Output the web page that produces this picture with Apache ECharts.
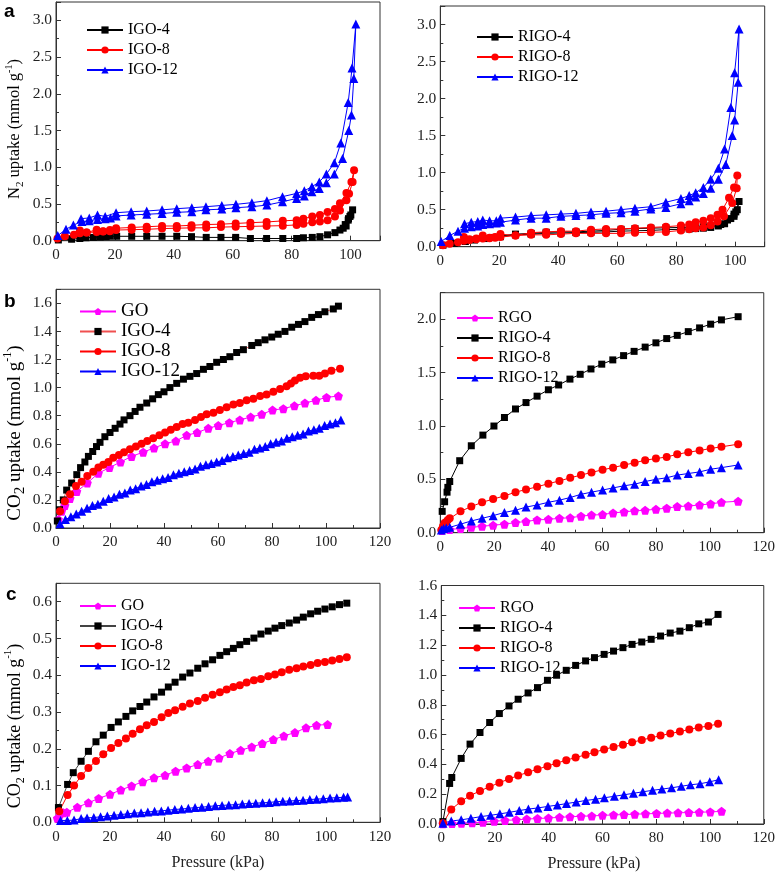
<!DOCTYPE html>
<html><head><meta charset="utf-8">
<script src="https://cdn.jsdelivr.net/npm/echarts@6/dist/echarts.min.js"></script>
<style>html,body{margin:0;padding:0;background:#fff}#c{width:778px;height:874px}</style>
</head><body><div id="c"></div>
<script>
// ---------- Panel a (N2 isotherms, adsorption then desorption) ----------
const aIGO4 = [[0.8,0.01],[5.3,0.02],[8.1,0.03],[10.2,0.04],[12.7,0.045],[15,0.05],[17,0.055],[18.3,0.06],[20.6,0.06],[25.7,0.06],[30.8,0.06],[36,0.06],[41,0.06],[46,0.055],[51,0.045],[56,0.045],[61,0.045],[66,0.03],[71.5,0.03],[77,0.03],[81.7,0.03],[84,0.04],[87,0.045],[89.6,0.055],[92.2,0.08],[94.7,0.11],[96.4,0.145],[98.2,0.22],[99.2,0.28],[99.8,0.33],[100.7,0.42],[100.1,0.35],[99.3,0.3],[98.5,0.2],[97.5,0.17]];
const aIGO8 = [[0.5,0.03],[3,0.06],[6.1,0.08],[8.1,0.1],[10.4,0.11],[13.8,0.12],[16,0.125],[18.3,0.13],[20.4,0.145],[25.7,0.15],[30.8,0.155],[36,0.165],[41,0.17],[46,0.175],[51,0.175],[56,0.185],[61,0.19],[66,0.195],[71.5,0.2],[77,0.205],[81.7,0.215],[84,0.23],[87,0.25],[89.6,0.26],[92.2,0.28],[94.7,0.33],[96.4,0.41],[98.6,0.55],[99.5,0.64],[100.7,0.80],[101.2,0.96],[100.3,0.8],[98.6,0.65],[96.4,0.51],[94.7,0.43],[92.2,0.39],[89.6,0.35],[87,0.33],[84,0.3],[81.7,0.28],[77,0.27],[71.5,0.255],[66,0.245],[61,0.235],[56,0.225],[51,0.22],[46,0.21],[41,0.2],[36,0.2],[30.8,0.19],[25.7,0.18],[20.4,0.17],[18.3,0.145],[16,0.13],[13.8,0.15],[10.4,0.11],[8.1,0.14]];
const aIGO12 = [[0.6,0.07],[3.4,0.155],[5.9,0.213],[8.8,0.26],[11.3,0.27],[14.1,0.29],[16.7,0.30],[18.5,0.31],[20.4,0.337],[25.5,0.35],[30.8,0.36],[36,0.37],[41,0.386],[46.1,0.395],[50.9,0.42],[56.3,0.43],[61.1,0.449],[66.5,0.463],[71.6,0.485],[76.9,0.53],[81.7,0.576],[84.3,0.608],[86.9,0.667],[89.4,0.71],[91.8,0.79],[94.5,0.907],[97.3,1.12],[99.4,1.5],[100.3,1.71],[101.1,2.21],[101.8,2.95],[100.5,2.35],[99.2,1.88],[96.7,1.33],[94.5,1.06],[91.8,0.907],[89.4,0.8],[86.9,0.735],[84.3,0.68],[81.7,0.644],[76.9,0.6],[71.6,0.545],[66.5,0.518],[61.1,0.495],[56.3,0.48],[50.9,0.463],[46.1,0.449],[41,0.436],[36,0.42],[30.8,0.404],[25.5,0.395],[20.4,0.381],[16.7,0.33],[14.1,0.35],[11.3,0.31],[8.5,0.30]];
const aRIGO4 = [[0.9,0.02],[4.9,0.045],[8.5,0.07],[11.6,0.09],[15,0.11],[18.4,0.125],[20.4,0.135],[25.5,0.16],[30.8,0.17],[35.9,0.18],[40.9,0.185],[46,0.19],[51.1,0.195],[56.2,0.2],[61.3,0.21],[66,0.215],[71.4,0.22],[76.5,0.23],[81.6,0.235],[84.4,0.24],[86.6,0.245],[89.2,0.25],[91.7,0.26],[94.3,0.28],[96.4,0.31],[98.5,0.38],[99.6,0.41],[100.2,0.47],[101.3,0.61],[100.7,0.5],[99.6,0.44],[97.4,0.36],[95.1,0.3],[91.7,0.28],[89.2,0.27],[86.6,0.265],[81.6,0.26],[76.5,0.255],[71.4,0.25],[66,0.245],[61.3,0.235],[56.2,0.22],[51.1,0.21],[46,0.2],[40.9,0.2],[35.9,0.195],[30.8,0.18],[25.5,0.17],[20.4,0.145]];
const aRIGO8 = [[0.9,0.02],[3.2,0.04],[6,0.06],[8,0.08],[9.9,0.09],[12.2,0.1],[14.4,0.11],[16.7,0.115],[18.6,0.12],[20.4,0.13],[25.5,0.15],[30.8,0.16],[35.9,0.16],[40.9,0.17],[46,0.18],[51.1,0.18],[56.2,0.18],[61.3,0.18],[66,0.19],[71.4,0.195],[76.5,0.2],[81.6,0.22],[84.4,0.235],[86.6,0.25],[89.2,0.26],[91.7,0.29],[94,0.34],[96.2,0.41],[99,0.59],[100.5,0.79],[100.7,0.96],[99.6,0.8],[97.9,0.66],[95.7,0.5],[94,0.43],[91.7,0.385],[89.2,0.35],[86.6,0.33],[84.4,0.3],[81.6,0.285],[76.5,0.27],[71.4,0.26],[66,0.25],[61.3,0.24],[56.2,0.24],[51.1,0.23],[46,0.21],[40.9,0.21],[35.9,0.2],[30.8,0.19],[25.5,0.15],[20.4,0.17],[18.6,0.13],[16.7,0.12],[14.4,0.15],[12.2,0.11],[9.9,0.1],[8,0.13]];
const aRIGO12 = [[0.3,0.07],[3.2,0.15],[6,0.21],[8.2,0.25],[10.5,0.27],[12.7,0.28],[14.4,0.3],[16.7,0.31],[19,0.32],[20.4,0.33],[25.5,0.36],[30.8,0.385],[35.9,0.385],[40.9,0.41],[46,0.42],[51.1,0.43],[56.2,0.45],[61.3,0.46],[66,0.48],[71.4,0.51],[76.5,0.53],[81.6,0.58],[84.4,0.62],[86.6,0.67],[89.2,0.72],[91.7,0.79],[94.3,0.91],[96.8,1.11],[99,1.5],[99.8,1.71],[101,2.22],[101.3,2.94],[99.8,2.35],[98.5,1.88],[96.4,1.32],[94.3,1.06],[91.7,0.91],[89.2,0.8],[86.6,0.73],[84.4,0.69],[81.6,0.65],[76.5,0.6],[71.4,0.54],[66,0.52],[61.3,0.5],[56.2,0.48],[51.1,0.47],[46,0.45],[40.9,0.44],[35.9,0.43],[30.8,0.42],[25.5,0.4],[20.4,0.385],[19,0.35],[16.7,0.35],[14.4,0.36],[12.7,0.34],[10.5,0.33],[8.2,0.31]];

// ---------- Panel b (CO2 uptake, left: IGO, right: RIGO) ----------
const bGO = [[0.9,0.06],[2.1,0.12],[3.3,0.16],[5.2,0.21],[7.7,0.26],[11.6,0.32],[15.7,0.39],[19.8,0.43],[23.9,0.47],[28,0.51],[32.3,0.54],[36.3,0.57],[40.4,0.6],[44.4,0.62],[48.4,0.66],[52.3,0.68],[56.4,0.71],[60.1,0.73],[64.2,0.75],[68.1,0.77],[72.1,0.79],[76.2,0.81],[80.2,0.84],[84.2,0.85],[88.3,0.87],[92.2,0.89],[96.3,0.91],[100.2,0.93],[104.6,0.94]];
const bIGO4 = [[0.5,0.05],[1.3,0.13],[2.7,0.2],[3.95,0.27],[5.8,0.32],[7.7,0.38],[9.1,0.43],[10.7,0.47],[12,0.51],[13.6,0.545],[15,0.58],[16.3,0.61],[18.1,0.65],[20,0.68],[21.9,0.71],[23.7,0.74],[25.2,0.77],[27.4,0.8],[29.3,0.83],[31.1,0.86],[33.6,0.89],[35.8,0.92],[37.9,0.95],[40,0.97],[42.2,1.0],[44.7,1.03],[47.2,1.06],[49.6,1.08],[52.1,1.1],[54.6,1.13],[57,1.15],[59.5,1.18],[62,1.2],[64.4,1.22],[66.9,1.25],[69.4,1.27],[72.5,1.3],[74.9,1.32],[77.4,1.34],[79.9,1.36],[82.3,1.38],[84.8,1.4],[87.3,1.43],[89.8,1.45],[92.2,1.47],[94.7,1.5],[97.2,1.52],[99.6,1.54],[102.7,1.56],[104.6,1.58]];
const bIGO8 = [[1.5,0.12],[3.3,0.19],[5.2,0.24],[7.4,0.3],[9.5,0.33],[11.6,0.37],[13.8,0.4],[15.7,0.43],[17.5,0.45],[19.4,0.47],[21.2,0.5],[23.3,0.52],[25.2,0.54],[27.4,0.56],[29.6,0.58],[31.7,0.6],[33.8,0.62],[36,0.64],[38.3,0.66],[40.4,0.68],[42.5,0.7],[44.7,0.72],[46.9,0.74],[49,0.75],[51.5,0.77],[53.7,0.79],[55.8,0.81],[58.3,0.82],[60.7,0.84],[63.2,0.86],[65.7,0.88],[68.1,0.89],[70.6,0.91],[73.1,0.92],[75.6,0.94],[78,0.95],[80.5,0.97],[83,0.99],[85.4,1.01],[87,1.03],[88.5,1.05],[90.4,1.07],[92.5,1.08],[95.3,1.085],[97.5,1.085],[99.6,1.1],[102,1.12],[105.2,1.135]];
const bIGO12 = [[1.5,0.03],[3.5,0.06],[5.5,0.08],[7.5,0.10],[9.5,0.12],[11.5,0.14],[13.5,0.16],[15.5,0.17],[17.5,0.19],[19.5,0.21],[21.5,0.22],[23.5,0.24],[25.5,0.25],[27.5,0.27],[29.5,0.28],[31.5,0.30],[33.5,0.31],[35.5,0.33],[37.5,0.34],[39.5,0.35],[41.5,0.36],[43.5,0.38],[45.5,0.39],[47.5,0.40],[49.5,0.41],[51.5,0.42],[53.5,0.44],[55.5,0.45],[57.5,0.46],[59.5,0.47],[61.5,0.48],[63.5,0.50],[65.5,0.51],[67.5,0.52],[69.5,0.53],[71.5,0.54],[73.5,0.56],[75.5,0.57],[77.5,0.58],[79.5,0.60],[81.5,0.61],[83.5,0.62],[85.5,0.64],[87.5,0.65],[89.5,0.66],[91.5,0.67],[93.5,0.69],[95.5,0.70],[97.5,0.71],[99.5,0.73],[101.5,0.74],[103.5,0.75],[105.5,0.77]];
const bRGO = [[0.6,0.02],[3.5,0.03],[7.5,0.04],[11.5,0.05],[15.5,0.06],[19.6,0.07],[23.8,0.08],[27.9,0.095],[31.8,0.105],[35.9,0.12],[40.1,0.125],[44.2,0.135],[48.2,0.14],[52.2,0.155],[56.1,0.165],[60.2,0.17],[64.1,0.185],[68.2,0.195],[72.1,0.205],[76,0.21],[80,0.22],[84,0.23],[87.9,0.245],[92,0.25],[96.2,0.26],[100.3,0.27],[104.3,0.285],[110.5,0.295]];
const bRIGO4 = [[0.7,0.2],[1.6,0.29],[2.5,0.38],[2.8,0.425],[3.5,0.48],[7.2,0.675],[11.5,0.815],[15.8,0.915],[19.9,1.0],[23.8,1.08],[27.9,1.16],[31.8,1.22],[35.9,1.28],[40.1,1.34],[43.9,1.385],[48.1,1.44],[51.9,1.485],[55.9,1.535],[59.9,1.58],[64,1.62],[68,1.66],[71.9,1.7],[76,1.74],[80,1.78],[84,1.82],[87.9,1.85],[92,1.885],[96.2,1.92],[100.3,1.955],[104.3,1.995],[110.5,2.025]];
const bRIGO8 = [[0.4,0.025],[1,0.06],[1.6,0.09],[2.2,0.1],[2.8,0.12],[3.5,0.135],[7.5,0.2],[11.5,0.245],[15.5,0.285],[19.6,0.315],[23.8,0.345],[27.9,0.38],[31.8,0.405],[35.9,0.43],[40.1,0.46],[44.2,0.485],[48.2,0.515],[52.2,0.54],[56.1,0.565],[60.2,0.59],[64.1,0.61],[68.2,0.635],[72.1,0.655],[76,0.68],[80,0.695],[84,0.71],[87.9,0.735],[92,0.755],[96.2,0.77],[100.3,0.79],[104.3,0.805],[110.5,0.83]];
const bRIGO12 = [[0.4,0.025],[1.2,0.04],[2.2,0.045],[3.5,0.05],[7.5,0.08],[11.5,0.11],[15.5,0.135],[19.6,0.16],[23.8,0.19],[27.9,0.21],[31.8,0.24],[35.9,0.26],[40.1,0.285],[44.2,0.305],[48.2,0.33],[52.2,0.36],[56.1,0.38],[60.2,0.4],[64.1,0.42],[68.2,0.44],[72.1,0.455],[76,0.48],[80,0.5],[84,0.515],[87.9,0.54],[92,0.555],[96.2,0.57],[100.3,0.595],[104.3,0.61],[110.5,0.635]];

// ---------- Panel c (CO2 uptake, left: IGO, right: RIGO) ----------
const cGO = [[0.5,0.011],[1.5,0.022],[2.7,0.026],[4,0.027],[7.9,0.041],[12,0.053],[15.8,0.065],[20,0.076],[24,0.088],[28,0.099],[32.1,0.11],[36.3,0.121],[40.4,0.128],[44.3,0.139],[48.4,0.148],[52.5,0.157],[56.4,0.166],[60.4,0.175],[64.4,0.187],[68.4,0.196],[72.5,0.205],[76.4,0.214],[80.5,0.225],[84.4,0.235],[88.5,0.244],[92.6,0.257],[96.5,0.264],[100.6,0.266]];
const cIGO4 = [[0.9,0.04],[4.3,0.103],[6.4,0.135],[9.3,0.166],[12,0.193],[14.8,0.219],[17.5,0.237],[20.4,0.258],[23.1,0.273],[25.9,0.288],[28.4,0.303],[31.1,0.315],[33.6,0.327],[36.3,0.341],[39.1,0.354],[41.6,0.368],[44.1,0.381],[46.9,0.395],[49.6,0.406],[52.5,0.419],[55.2,0.431],[58,0.442],[60.7,0.454],[63.2,0.464],[65.7,0.473],[68.1,0.483],[70.6,0.492],[73.3,0.501],[75.9,0.512],[78.6,0.52],[81.1,0.528],[83.6,0.535],[86.4,0.542],[89.1,0.55],[91.6,0.558],[94.3,0.567],[96.9,0.574],[99.6,0.58],[102.3,0.586],[105,0.592],[107.7,0.596]];
const cIGO8 = [[1.2,0.03],[4.3,0.074],[6.7,0.1],[9.3,0.126],[12,0.148],[14.8,0.167],[17.5,0.185],[20.4,0.202],[23.1,0.216],[25.9,0.228],[28.4,0.241],[31.1,0.253],[33.6,0.264],[36.3,0.273],[39.1,0.286],[41.6,0.297],[44.1,0.305],[46.9,0.314],[49.6,0.323],[52.5,0.33],[55.2,0.339],[58,0.347],[60.7,0.354],[63.2,0.361],[65.7,0.368],[68.1,0.373],[70.6,0.38],[73.3,0.386],[75.9,0.39],[78.6,0.397],[81.1,0.402],[83.6,0.408],[86.4,0.415],[89.1,0.419],[91.6,0.424],[94.3,0.428],[96.9,0.433],[99.6,0.436],[102.3,0.44],[105,0.444],[107.7,0.449]];
const cIGO12 = [[1.7,0.005],[4.2,0.005],[6.7,0.006],[9.3,0.01],[11.5,0.012],[14,0.013],[16.5,0.015],[19,0.017],[21.5,0.019],[24,0.021],[26.5,0.023],[29,0.025],[31.5,0.026],[34,0.028],[36.5,0.03],[39,0.031],[41.5,0.033],[44,0.035],[46.5,0.036],[49,0.038],[51.5,0.04],[54,0.041],[56.5,0.043],[59,0.045],[61.5,0.046],[64,0.047],[66.5,0.048],[69,0.05],[71.5,0.051],[74,0.052],[76.5,0.053],[79,0.054],[81.5,0.056],[84,0.057],[86.5,0.058],[89,0.059],[91.5,0.06],[94,0.062],[96.5,0.063],[99,0.064],[101.5,0.066],[104,0.067],[106.5,0.068],[108,0.069]];
const cRGO = [[0.6,0.002],[4,0.003],[7.5,0.005],[11.5,0.008],[15.5,0.012],[19.7,0.018],[23.7,0.024],[27.9,0.028],[31.8,0.033],[35.8,0.037],[39.9,0.04],[44,0.045],[47.9,0.048],[52,0.052],[56,0.054],[60,0.058],[64.1,0.061],[68,0.063],[72,0.066],[76,0.068],[80.1,0.071],[84.1,0.073],[88.1,0.075],[92.1,0.077],[96,0.079],[100.1,0.081],[104.3,0.085]];
const cRIGO4 = [[0.6,0.016],[3.1,0.272],[3.9,0.312],[7.4,0.44],[10.7,0.536],[14.4,0.614],[18,0.681],[21.6,0.741],[25.2,0.792],[28.6,0.837],[32.3,0.879],[35.8,0.915],[39.5,0.964],[42.9,0.998],[46.5,1.031],[50,1.064],[53.7,1.094],[57,1.116],[60.6,1.138],[64.1,1.16],[67.6,1.183],[71,1.205],[74.6,1.221],[78.1,1.239],[81.6,1.261],[85.2,1.281],[88.8,1.294],[92.3,1.317],[95.8,1.343],[99.4,1.355],[103,1.406]];
const cRIGO8 = [[0.6,0.005],[3.7,0.098],[7.4,0.152],[10.7,0.19],[14.4,0.222],[18,0.25],[21.6,0.277],[25.2,0.302],[28.6,0.325],[32.3,0.347],[35.8,0.368],[39.5,0.388],[42.9,0.408],[46.5,0.428],[50,0.446],[53.7,0.464],[57,0.482],[60.6,0.5],[64.1,0.517],[67.6,0.532],[71,0.548],[74.6,0.564],[78.1,0.578],[81.6,0.593],[85.2,0.607],[88.8,0.62],[92.3,0.634],[95.8,0.648],[99.4,0.657],[103,0.672]];
const cRIGO12 = [[0.6,0.005],[3.7,0.02],[7.4,0.028],[11,0.038],[14.8,0.05],[18.3,0.058],[21.8,0.068],[25.3,0.078],[29,0.09],[32.4,0.1],[36,0.108],[39.7,0.118],[43.2,0.127],[46.6,0.137],[50.2,0.147],[53.8,0.158],[57.4,0.166],[60.7,0.176],[64.4,0.186],[68,0.196],[71.5,0.206],[75,0.216],[78.6,0.226],[82.1,0.234],[85.7,0.243],[89.3,0.253],[92.7,0.263],[96.3,0.27],[99.9,0.283],[103.2,0.297]];

// ---------- text ----------
const xTitle = 'Pressure (kPa)';
const panelLetters = ['a', 'b', 'c'];

const SERIF = 'Liberation Serif';
const PENT = 'path://M50,0 L97.6,34.5 L79.4,90.5 L20.6,90.5 L2.4,34.5 Z';
const BLACK = '#000000', RED = '#ff0000', BLUE = '#0000ff', MAG = '#ff00ff';

function S(name, data, sym, size, color, lineColor) {
  return { name, data, sym, size, color, lineColor: lineColor || color };
}

const panels = [
  { grid: { left: 56, top: 2, width: 324, height: 238.7 }, xMax: 110, yMax: 3.25, yInt: 0.5,
    legend: { left: 81, top: 17, fs: 16, gap: 4 },
    series: [S('IGO-4@a', aIGO4, 'rect', 7, BLACK), S('IGO-8@a', aIGO8, 'circle', 8, RED), S('IGO-12@a', aIGO12, 'triangle', 9, BLUE)] },
  { grid: { left: 440.3, top: 6, width: 324.4, height: 240.7 }, xMax: 110, yMax: 3.25, yInt: 0.5,
    legend: { left: 471, top: 24, fs: 16, gap: 4 },
    series: [S('RIGO-4@a', aRIGO4, 'rect', 7, BLACK), S('RIGO-8@a', aRIGO8, 'circle', 8, RED), S('RIGO-12@a', aRIGO12, 'triangle', 9, BLUE)] },
  { grid: { left: 56, top: 289.3, width: 324, height: 238.7 }, xMax: 120, yMax: 1.7, yInt: 0.2,
    legend: { left: 74, top: 297, fs: 19, gap: 1 },
    series: [S('GO@b', bGO, PENT, 9, MAG), S('IGO-4@b', bIGO4, 'rect', 7, BLACK, '#f05050'), S('IGO-8@b', bIGO8, 'circle', 8, RED), S('IGO-12@b', bIGO12, 'triangle', 9, BLUE)] },
  { grid: { left: 440.3, top: 292.7, width: 324.4, height: 240 }, xMax: 120, yMax: 2.25, yInt: 0.5,
    legend: { left: 451, top: 305, fs: 16, gap: 4 },
    series: [S('RGO@b', bRGO, PENT, 9, MAG), S('RIGO-4@b', bRIGO4, 'rect', 7, BLACK), S('RIGO-8@b', bRIGO8, 'circle', 8, RED), S('RIGO-12@b', bRIGO12, 'triangle', 9, BLUE)] },
  { grid: { left: 56, top: 583.3, width: 324, height: 239 }, xMax: 120, yMax: 0.65, yInt: 0.1,
    legend: { left: 74, top: 593, fs: 16, gap: 4 },
    series: [S('GO@c', cGO, PENT, 9, MAG), S('IGO-4@c', cIGO4, 'rect', 7, BLACK, '#444'), S('IGO-8@c', cIGO8, 'circle', 8, RED), S('IGO-12@c', cIGO12, 'triangle', 9, BLUE)] },
  { grid: { left: 441.3, top: 585.5, width: 324.4, height: 238.5 }, xMax: 120, yMax: 1.6, yInt: 0.2,
    legend: { left: 453, top: 595, fs: 16, gap: 4 },
    series: [S('RGO@c', cRGO, PENT, 9, MAG), S('RIGO-4@c', cRIGO4, 'rect', 7, BLACK), S('RIGO-8@c', cRIGO8, 'circle', 8, RED), S('RIGO-12@c', cRIGO12, 'triangle', 9, BLUE)] }
];

const AX = '#333';
const grids = [], xAxes = [], yAxes = [], series = [], legends = [];
panels.forEach((p, i) => {
  grids.push(Object.assign({ show: true, borderColor: AX, borderWidth: 1, backgroundColor: 'transparent' }, p.grid));
  xAxes.push({
    type: 'value', gridIndex: i, min: 0, max: p.xMax, interval: 20,
    axisLine: { lineStyle: { color: AX, width: 1 } },
    axisTick: { inside: true, length: 5, lineStyle: { color: AX } },
    minorTick: { show: true, splitNumber: 2, length: 3, lineStyle: { color: AX } },
    splitLine: { show: false },
    axisLabel: { fontFamily: SERIF, fontSize: 15, color: '#222', margin: 7, showMaxLabel: p.xMax % 20 === 0 }
  });
  const yMult = Math.abs(Math.round(p.yMax / p.yInt) * p.yInt - p.yMax) < 1e-9;
  yAxes.push({
    type: 'value', gridIndex: i, min: 0, max: p.yMax, interval: p.yInt,
    axisLine: { lineStyle: { color: AX, width: 1 } },
    axisTick: { inside: true, length: 5, lineStyle: { color: AX } },
    minorTick: { show: true, splitNumber: 2, length: 3, lineStyle: { color: AX } },
    splitLine: { show: false },
    axisLabel: { fontFamily: SERIF, fontSize: 15.5, color: '#222', margin: 4, showMaxLabel: yMult,
      formatter: v => v.toFixed(1) }
  });
  p.series.forEach(s => {
    series.push({
      type: 'line', name: s.name, data: s.data, xAxisIndex: i, yAxisIndex: i,
      symbol: s.sym, symbolSize: s.size, showSymbol: true, showAllSymbol: true,
      lineStyle: { color: s.lineColor, width: 1 },
      itemStyle: { color: s.color },
      animation: false, silent: true
    });
  });
  legends.push({
    data: p.series.map(s => s.name), orient: 'vertical', left: p.legend.left, top: p.legend.top,
    itemWidth: 36, itemHeight: 9, itemGap: p.legend.gap, selectedMode: false,
    formatter: n => n.split('@')[0],
    textStyle: { fontFamily: SERIF, fontSize: p.legend.fs, color: '#000' }
  });
});

function yTitle(x, y, chem, fs, subSize, supSize) {
  return {
    type: 'text', x: x, y: y, rotation: Math.PI / 2,
    style: {
      text: '{n|' + chem + '}{s|2}{n| uptake (mmol g}{p|-1}{n|)}',
      align: 'center', verticalAlign: 'middle', fill: '#000',
      rich: {
        n: { fontFamily: SERIF, fontSize: fs, lineHeight: Math.round(fs * 1.35), verticalAlign: 'middle', fill: '#000' },
        s: { fontFamily: SERIF, fontSize: subSize, lineHeight: subSize + 1, verticalAlign: 'bottom', fill: '#000' },
        p: { fontFamily: SERIF, fontSize: supSize, lineHeight: supSize + 1, verticalAlign: 'top', fill: '#000' }
      }
    }
  };
}
function letter(t, x, y) {
  return { type: 'text', x: x, y: y, style: { text: '{l|' + t + '}', rich: { l: { fontFamily: 'Liberation Sans', fontWeight: 'bold', fontSize: 19, fill: '#000' } }, align: 'left', verticalAlign: 'middle' } };
}
function xt(x, y) {
  return { type: 'text', x: x, y: y, style: { text: '{t|' + xTitle + '}', rich: { t: { fontFamily: SERIF, fontSize: 16, fill: '#222' } }, align: 'center', verticalAlign: 'middle' } };
}

const chart = echarts.init(document.getElementById('c'), null, { renderer: 'canvas' });
chart.setOption({
  backgroundColor: '#fff',
  animation: false,
  grid: grids, xAxis: xAxes, yAxis: yAxes, series: series, legend: legends,
  graphic: [
    yTitle(15, 129, 'N', 16.5, 11, 10), yTitle(15, 433, 'CO', 19, 15, 12), yTitle(15, 726, 'CO', 18, 12, 11),
    letter(panelLetters[0], 4, 12), letter(panelLetters[1], 4, 302), letter(panelLetters[2], 6, 595),
    xt(218, 863), xt(594, 864)
  ]
});
</script></body></html>
